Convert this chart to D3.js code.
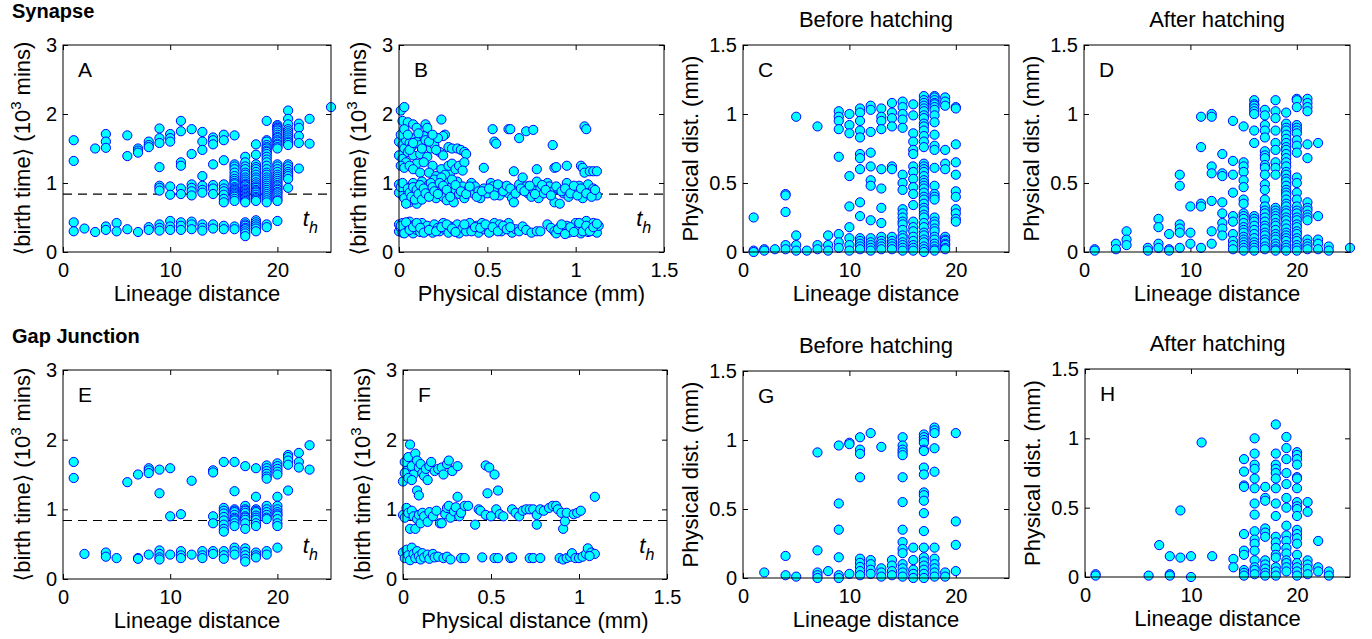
<!DOCTYPE html>
<html>
<head>
<meta charset="utf-8">
<script src="https://cdn.jsdelivr.net/npm/d3@7"></script>
<style>
html,body{margin:0;padding:0;background:#fff;}
svg{display:block;font-family:"Liberation Sans",Arial,"DejaVu Sans",sans-serif;}
</style>
</head>
<body>
<svg id="chart" width="1372" height="639"></svg>
<script>
// ---------------- DATA ----------------
const rowTitles = ["Synapse", "Gap Junction"];
const panelLetters = ["A","B","C","D","E","F","G","H"];
const panelTitles = ["", "", "Before hatching", "After hatching", "", "", "Before hatching", "After hatching"];
const lineageTicks = [0, 10, 20];
const physTicks = [0, 0.5, 1, 1.5];
const birthTicks = [0, 1, 2, 3];
const physDistTicks = [0, 0.5, 1, 1.5];
const hatchThreshold = 0.84; // t_h, 10^3 mins

// A: Synapse, lineage distance vs <birth time>  [lineage, [birth times]]
const synLineageBirth = [
  [1,[1.62,1.32,0.43,0.30]],[2,[0.34]],[3,[1.50,0.29]],[4,[1.71,1.60,1.51,0.37,0.32]],
  [5,[0.42,0.30]],[6,[1.69,1.39,0.33]],[7,[1.50,1.47,1.44,0.29]],[8,[1.60,1.55,1.52,0.36,0.32]],
  [9,[1.79,1.65,1.58,1.23,0.96,0.93,0.89,0.40,0.35,0.31]],
  [10,[1.71,1.65,1.60,0.95,0.83,0.45,0.37,0.32]],
  [11,[1.90,1.75,1.30,1.25,0.92,0.84,0.43,0.38,0.32]],
  [12,[1.78,1.42,0.98,0.93,0.88,0.82,0.44,0.40,0.33]],
  [13,[1.74,1.60,1.48,1.10,0.96,0.90,0.86,0.40,0.35,0.31]],
  [14,[1.66,1.62,1.56,1.27,0.97,0.92,0.84,0.40,0.34]],
  [15,[1.70,1.62,1.33,0.98,0.92,0.88,0.83,0.77,0.72,0.38,0.33]],
  [16,[1.69,1.27,1.24,1.20,1.15,1.10,1.06,1.03,1.00,0.98,0.94,0.92,0.90,0.88,0.86,0.84,0.82,0.80,0.77,0.74,0.37,0.33]],
  [17,[1.38,1.30,1.24,1.20,1.15,1.12,1.08,1.05,1.02,0.99,0.97,0.95,0.92,0.90,0.88,0.86,0.84,0.82,0.80,0.78,0.76,0.74,0.72,0.43,0.40,0.38,0.35,0.33,0.30,0.27,0.23]],
  [18,[1.56,1.41,1.27,1.23,1.20,1.16,1.12,1.08,1.05,1.01,0.98,0.95,0.93,0.90,0.88,0.86,0.83,0.80,0.78,0.76,0.74,0.46,0.43,0.40,0.37,0.34,0.30]],
  [19,[1.90,1.62,1.60,1.55,1.52,1.50,1.47,1.45,1.42,1.38,1.34,1.30,1.25,1.20,1.15,1.12,1.08,1.05,1.02,0.99,0.96,0.93,0.90,0.87,0.84,0.81,0.78,0.75,0.72,0.40,0.36]],
  [20,[1.84,1.82,1.80,1.78,1.76,1.73,1.70,1.67,1.65,1.62,1.60,1.57,1.55,1.52,1.50,1.27,1.24,1.20,1.16,1.12,1.09,1.06,1.03,1.00,0.97,0.95,0.92,0.90,0.87,0.85,0.82,0.79,0.76,0.74,0.45]],
  [21,[2.05,1.93,1.85,1.78,1.75,1.72,1.69,1.66,1.63,1.60,1.58,1.55,1.27,1.24,1.20,1.16,1.13,1.10,1.06,0.93]],
  [22,[1.86,1.80,1.68,1.58,1.21]],[23,[1.93,1.57]],[25,[2.10]]
];

// B: Synapse, physical distance (mm) vs <birth time>  [x, y]
const synPhysBirth = [
  [0.01,2.05],[0.03,2.10],[0.02,1.90],[0.05,1.88],[0.08,1.85],[0.10,1.80],[0.15,1.85],[0.16,1.80],[0.24,1.92],[0.26,1.70],[0.25,1.68],
  [0.00,1.60],[0.02,1.55],[0.03,1.50],[0.04,1.62],[0.06,1.58],[0.07,1.52],[0.09,1.65],[0.10,1.60],[0.12,1.55],[0.14,1.68],[0.15,1.62],
  [0.18,1.50],[0.20,1.55],[0.22,1.65],[0.23,1.45],[0.25,1.40],[0.28,1.52],[0.30,1.50],[0.33,1.50],[0.35,1.48],[0.37,1.45],[0.38,1.42],
  [0.00,1.40],[0.02,1.35],[0.05,1.45],[0.08,1.40],[0.12,1.42],[0.16,1.38],
  [0.01,1.70],[0.03,1.78],[0.05,1.70],[0.06,1.48],[0.08,1.58],[0.11,1.72],[0.13,1.50],[0.17,1.60],[0.19,1.70],[0.21,1.48],
  [0.04,1.30],[0.10,1.28],[0.14,1.30],[0.19,1.25],[0.24,1.20],[0.29,1.15],
  [0.01,1.25],[0.03,1.22],[0.06,1.25],[0.08,1.20],[0.12,1.15],[0.17,1.15],[0.21,1.10],[0.26,1.12],[0.28,1.25],[0.30,1.28],[0.32,1.20],
  [0.34,1.25],[0.37,1.30],[0.36,1.18],[0.48,1.22],[0.65,1.17],[0.78,1.20],[0.88,1.22],[0.89,1.23],[0.95,1.25],[1.03,1.25],[1.04,1.22],
  [1.05,1.15],[1.08,1.17],[1.10,1.17],[1.12,1.17],
  [0.53,1.78],[0.54,1.60],[0.55,1.57],[0.62,1.78],[0.63,1.78],[0.68,1.65],[0.72,1.75],[0.76,1.77],[0.87,1.55],[1.05,1.82],[1.06,1.78],
  [0.00,0.98],[0.01,0.90],[0.02,0.82],[0.03,0.95],[0.04,0.88],[0.05,0.78],[0.06,0.72],[0.07,0.92],[0.08,1.00],[0.09,0.85],[0.10,0.70],
  [0.11,0.95],[0.12,0.88],[0.13,1.02],[0.14,0.80],[0.15,0.92],[0.16,0.86],[0.17,0.98],[0.18,0.90],[0.19,0.82],[0.20,1.05],[0.21,0.78],
  [0.22,0.95],[0.23,0.88],[0.24,1.08],[0.25,0.80],[0.26,0.92],[0.27,0.75],[0.28,1.00],[0.29,0.86],[0.30,0.95],[0.31,0.72],[0.32,0.90],
  [0.33,1.02],[0.34,0.84],[0.36,0.95],[0.37,0.78],[0.39,0.90],[0.41,1.00],[0.42,0.85],[0.43,0.95],[0.45,0.88],[0.46,0.78],[0.48,0.92],
  [0.50,0.85],[0.52,1.00],[0.53,0.95],[0.55,0.88],[0.57,0.82],[0.58,0.95],[0.60,0.90],[0.62,0.85],[0.64,0.78],[0.65,0.72],[0.67,0.90],
  [0.68,0.98],[0.70,1.08],[0.72,0.95],[0.73,0.85],[0.75,0.80],[0.76,0.90],[0.78,1.02],[0.79,0.78],[0.80,0.92],[0.82,0.85],[0.84,1.00],
  [0.85,0.95],[0.87,0.88],[0.88,0.72],[0.90,0.92],[0.91,0.70],[0.93,0.85],[0.95,1.00],[0.96,0.80],[0.98,0.92],[1.00,0.88],[1.02,0.96],
  [1.04,0.78],[1.05,0.90],[1.07,0.98],[1.08,0.85],[1.10,0.92],[1.12,0.82],
  [0.00,0.86],[0.01,0.94],[0.02,1.00],[0.03,0.78],[0.04,0.70],[0.05,0.92],[0.06,0.86],[0.07,0.80],[0.08,0.94],[0.09,0.76],[0.10,0.90],
  [0.11,0.84],[0.12,0.97],[0.13,0.76],[0.14,0.92],[0.15,0.85],[0.17,0.80],[0.18,1.00],[0.19,0.94],[0.20,0.88],[0.22,0.84],[0.23,1.00],
  [0.25,0.96],[0.27,0.90],[0.29,0.80],[0.30,1.05],[0.32,0.97],[0.35,0.88],[0.38,0.84],[0.40,0.95],[0.44,0.80],[0.47,0.88],[0.51,0.92],
  [0.54,0.82],[0.56,0.98],[0.59,0.88],[0.61,0.96],[0.63,0.92],[0.66,0.85],[0.69,0.92],[0.71,0.88],[0.74,0.96],[0.77,0.84],[0.81,0.97],
  [0.83,0.90],[0.86,0.82],[0.89,0.95],[0.92,0.88],[0.94,0.92],[0.97,0.85],[0.99,0.96],[1.01,0.82],[1.03,0.92],[1.06,0.85],[1.09,0.80],[1.11,0.90],
  [0.00,0.40],[0.00,0.30],[0.01,0.35],[0.02,0.42],[0.02,0.28],[0.03,0.33],[0.04,0.38],[0.05,0.30],[0.06,0.44],[0.07,0.35],[0.08,0.27],
  [0.09,0.40],[0.10,0.32],[0.11,0.37],[0.12,0.29],[0.13,0.42],[0.14,0.34],[0.15,0.30],[0.16,0.38],[0.18,0.33],[0.19,0.28],[0.20,0.40],
  [0.22,0.35],[0.23,0.30],[0.25,0.42],[0.26,0.33],[0.28,0.28],[0.29,0.37],[0.31,0.31],[0.33,0.40],[0.34,0.27],[0.36,0.35],[0.38,0.30],
  [0.40,0.42],[0.42,0.33],[0.44,0.38],[0.45,0.28],[0.47,0.42],[0.48,0.33],[0.50,0.37],[0.52,0.30],[0.54,0.42],[0.55,0.35],[0.57,0.40],
  [0.58,0.30],[0.60,0.36],[0.62,0.42],[0.64,0.28],[0.66,0.33],[0.68,0.30],[0.70,0.37],[0.72,0.32],[0.75,0.28],[0.78,0.30],[0.80,0.30],
  [0.84,0.40],[0.86,0.35],[0.88,0.30],[0.89,0.27],[0.91,0.36],[0.93,0.30],[0.95,0.38],[0.96,0.28],[0.98,0.33],[1.00,0.42],[1.01,0.30],
  [1.02,0.36],[1.03,0.27],[1.04,0.40],[1.05,0.33],[1.06,0.45],[1.07,0.29],[1.08,0.37],[1.09,0.31],[1.10,0.42],[1.11,0.35],[1.12,0.28],[1.13,0.38],
  [0.01,0.38],[0.03,0.27],[0.04,0.43],[0.06,0.32],[0.08,0.36],[0.10,0.42],[0.12,0.35],[0.14,0.28],[0.17,0.32],[0.21,0.30],[0.24,0.36],
  [0.27,0.40],[0.30,0.34],[0.32,0.29],[0.37,0.40],[0.41,0.30],[0.43,0.36],[0.46,0.35],[0.49,0.40],[0.51,0.28],[0.53,0.36],[0.56,0.30],
  [0.59,0.38],[0.61,0.33],[0.63,0.36],[0.90,0.33],[0.92,0.40],[0.94,0.26],[0.97,0.36],[0.99,0.29],[1.02,0.42],[1.04,0.30],[1.06,0.38],
  [1.08,0.30],[1.10,0.36],[1.12,0.41]
];

// C: Synapse before hatching, lineage distance vs physical distance
const synBeforeLineagePhys = [
  [1,[0.25,0.01,0.00]],[2,[0.02,0.01]],[3,[0.02]],[4,[0.42,0.41,0.29,0.05,0.02]],[5,[0.98,0.12,0.05,0.01]],
  [6,[0.01]],[7,[0.91,0.05,0.02]],[8,[0.12,0.05,0.01]],
  [9,[1.02,0.98,0.95,0.89,0.69,0.13,0.07,0.03]],
  [10,[1.00,0.92,0.86,0.55,0.33,0.18,0.10,0.05,0.01]],
  [11,[1.04,1.01,0.95,0.88,0.83,0.71,0.68,0.60,0.36,0.26,0.10,0.08,0.06,0.04,0.02]],
  [12,[1.06,1.03,0.87,0.72,0.62,0.52,0.48,0.23,0.10,0.07,0.05,0.03,0.01]],
  [13,[1.04,0.98,0.95,0.89,0.60,0.46,0.32,0.21,0.11,0.08,0.06,0.04,0.02]],
  [14,[1.08,1.01,0.97,0.91,0.62,0.60,0.11,0.08,0.06,0.04,0.02]],
  [15,[1.09,1.05,1.00,0.96,0.90,0.56,0.50,0.45,0.31,0.28,0.25,0.22,0.20,0.16,0.12,0.10,0.07,0.05,0.03,0.01]],
  [16,[1.07,0.99,0.86,0.80,0.74,0.71,0.62,0.58,0.53,0.47,0.42,0.34,0.22,0.18,0.15,0.11,0.08,0.05,0.03,0.01]],
  [17,[1.13,1.10,1.08,1.06,1.04,1.02,0.99,0.97,0.93,0.91,0.88,0.84,0.80,0.76,0.64,0.62,0.60,0.58,0.55,0.52,0.50,0.48,0.46,0.43,0.40,0.38,0.35,0.32,0.30,0.27,0.25,0.21,0.18,0.14,0.12,0.09,0.07,0.04,0.02,0.00]],
  [18,[1.13,1.12,1.10,1.08,1.07,1.05,1.03,0.99,0.94,0.85,0.77,0.74,0.61,0.48,0.42,0.40,0.38,0.25,0.22,0.20,0.17,0.15,0.11,0.09,0.06,0.04,0.02,0.01]],
  [19,[1.12,1.09,1.06,0.74,0.64,0.60,0.11,0.09,0.08,0.06,0.05,0.03,0.02]],
  [20,[1.05,1.04,0.78,0.65,0.56,0.44,0.40,0.31,0.28,0.24,0.22]]
];

// D: Synapse after hatching
const synAfterLineagePhys = [
  [1,[0.02,0.01]],[3,[0.06,0.02]],[4,[0.15,0.09,0.05]],[6,[0.03,0.01]],[7,[0.24,0.18,0.06,0.03]],
  [8,[0.13,0.02,0.01]],[9,[0.56,0.48,0.20,0.17,0.14,0.03]],[10,[0.33,0.14,0.06]],
  [11,[0.98,0.76,0.35,0.33,0.03]],[12,[1.00,0.98,0.62,0.57,0.37,0.15,0.06]],
  [13,[0.71,0.57,0.55,0.36,0.28,0.21,0.17,0.12]],
  [14,[0.95,0.66,0.56,0.43,0.26,0.22,0.13,0.08,0.05,0.02]],
  [15,[0.91,0.65,0.62,0.58,0.52,0.47,0.38,0.35,0.28,0.26,0.24,0.21,0.18,0.16,0.14,0.11,0.09,0.07,0.05,0.03,0.01]],
  [16,[1.10,1.07,1.06,1.04,1.02,1.00,0.88,0.79,0.26,0.24,0.22,0.19,0.16,0.13,0.10,0.07,0.05,0.03,0.01]],
  [17,[1.03,0.99,0.92,0.88,0.83,0.73,0.70,0.68,0.63,0.61,0.56,0.49,0.45,0.38,0.33,0.30,0.28,0.25,0.22,0.19,0.17,0.14,0.12,0.09,0.07,0.04,0.02]],
  [18,[1.10,1.02,0.97,0.88,0.79,0.74,0.65,0.61,0.56,0.32,0.30,0.28,0.26,0.24,0.21,0.19,0.16,0.13,0.11,0.09,0.06,0.04,0.02,0.01]],
  [19,[1.01,0.93,0.90,0.88,0.85,0.82,0.79,0.76,0.74,0.71,0.68,0.65,0.62,0.58,0.56,0.53,0.51,0.48,0.45,0.43,0.41,0.38,0.35,0.33,0.30,0.28,0.25,0.23,0.20,0.17,0.14,0.12,0.10,0.08,0.05,0.03,0.01]],
  [20,[1.11,1.10,1.05,0.92,0.90,0.88,0.86,0.81,0.77,0.72,0.54,0.50,0.43,0.38,0.33,0.30,0.28,0.25,0.23,0.20,0.18,0.15,0.13,0.10,0.08,0.05,0.03,0.01]],
  [21,[1.11,1.08,1.05,1.02,0.78,0.68,0.36,0.32,0.30,0.27,0.25,0.23,0.09,0.06,0.04,0.02]],
  [22,[0.79,0.26,0.09,0.06,0.02]],[23,[0.04,0.01]],[25,[0.03]]
];

// E: Gap junction, lineage distance vs <birth time>
const gapLineageBirth = [
  [1,[1.68,1.45]],[2,[0.36]],[4,[0.38,0.32]],[5,[0.30]],[6,[1.39]],[7,[1.50,0.30,0.29]],
  [8,[1.59,1.56,1.52,0.35]],[9,[1.57,1.23,0.41,0.36,0.31,0.28]],[10,[1.59,0.90,0.35]],
  [11,[0.93,0.40,0.34,0.30]],[12,[1.41,0.35]],[13,[0.40,0.34,0.30]],
  [14,[1.56,1.53,0.90,0.80,0.40,0.36]],
  [15,[1.68,1.02,0.98,0.94,0.89,0.84,0.78,0.72,0.68,0.40,0.34,0.29]],
  [16,[1.68,1.26,1.00,0.98,0.96,0.92,0.88,0.86,0.84,0.80,0.76,0.45,0.40,0.35]],
  [17,[1.62,1.05,1.00,0.98,0.95,0.90,0.88,0.85,0.80,0.72,0.44,0.39,0.34,0.29,0.25]],
  [18,[1.59,1.18,1.00,0.98,0.96,0.91,0.88,0.85,0.80,0.76,0.38,0.34,0.31]],
  [19,[1.63,1.59,1.55,1.51,1.47,1.44,1.05,1.00,0.96,0.92,0.88,0.86,0.40,0.35]],
  [20,[1.66,1.62,1.58,1.54,1.50,1.18,1.05,1.00,0.96,0.93,0.91,0.86,0.80,0.76,0.45]],
  [21,[1.78,1.75,1.70,1.64,1.27]],[22,[1.81,1.68,1.60]],[23,[1.92,1.57]]
];

// F: Gap junction, physical distance vs <birth time>
const gapPhysBirth = [
  [0.04,1.93],[0.01,1.68],[0.02,1.55],[0.03,1.75],[0.05,1.62],[0.06,1.50],[0.07,1.80],[0.08,1.70],[0.09,1.60],[0.10,1.65],[0.11,1.52],
  [0.12,1.48],[0.13,1.58],[0.14,1.42],[0.15,1.62],[0.16,1.68],[0.18,1.55],[0.20,1.58],[0.22,1.60],[0.23,1.50],[0.25,1.65],[0.26,1.70],
  [0.28,1.55],[0.31,1.62],[0.00,1.40],[0.01,1.52],[0.03,1.45],[0.05,1.42],[0.08,1.27],[0.09,1.20],[0.47,1.63],[0.49,1.60],[0.52,1.50],
  [0.48,1.23],[0.54,1.27],[0.31,1.18],[1.09,1.18],
  [0.00,0.92],[0.01,0.88],[0.02,1.02],[0.03,0.95],[0.04,0.72],[0.05,0.98],[0.06,0.90],[0.07,0.72],[0.08,0.86],[0.09,0.92],[0.10,0.80],
  [0.11,0.95],[0.12,0.90],[0.14,0.82],[0.15,0.96],[0.17,0.90],[0.19,0.98],[0.21,0.80],[0.22,0.80],[0.24,0.93],[0.25,1.02],[0.26,1.05],
  [0.27,0.88],[0.29,0.97],[0.30,1.03],[0.32,0.90],[0.33,0.95],[0.35,1.05],[0.37,1.05],[0.41,0.78],[0.43,1.00],[0.44,0.98],[0.47,0.92],
  [0.50,0.90],[0.53,1.00],[0.55,0.93],[0.57,0.90],[0.62,1.00],[0.64,0.95],[0.66,0.90],[0.68,0.98],[0.70,1.00],[0.72,1.00],[0.74,1.00],
  [0.76,0.78],[0.76,0.92],[0.78,1.00],[0.80,0.98],[0.83,1.02],[0.85,1.05],[0.87,1.05],[0.88,1.00],[0.90,0.95],[0.91,0.72],[0.92,0.83],
  [0.93,0.95],[0.97,0.93],[0.99,0.95],[1.01,0.98],
  [0.00,0.38],[0.01,0.30],[0.02,0.42],[0.03,0.34],[0.04,0.27],[0.05,0.45],[0.06,0.36],[0.07,0.30],[0.08,0.40],[0.09,0.33],[0.10,0.28],
  [0.11,0.37],[0.12,0.31],[0.14,0.35],[0.15,0.29],[0.17,0.36],[0.18,0.31],[0.20,0.32],[0.23,0.30],[0.25,0.32],[0.27,0.28],[0.33,0.30],
  [0.35,0.30],[0.45,0.31],[0.52,0.30],[0.54,0.30],[0.61,0.30],[0.62,0.31],[0.72,0.30],[0.74,0.30],[0.78,0.30],[0.89,0.30],[0.91,0.28],
  [0.93,0.30],[0.95,0.32],[0.96,0.37],[0.98,0.30],[1.00,0.30],[1.02,0.32],[1.04,0.36],[1.05,0.44],[1.07,0.38],[1.09,0.36],[1.06,0.33]
];

// G: Gap junction before hatching
const gapBeforeLineagePhys = [
  [2,[0.04]],[4,[0.16,0.02]],[5,[0.01]],[7,[0.91,0.20,0.04,0.02,0.00]],[8,[0.05]],
  [9,[0.96,0.54,0.35,0.15,0.02,0.00]],[10,[0.98,0.97,0.03]],
  [11,[1.02,0.93,0.90,0.73,0.14,0.11,0.08,0.05,0.02]],[12,[1.05,0.13,0.10,0.06,0.03]],
  [13,[0.95,0.07,0.04,0.01]],[14,[0.13,0.09,0.05,0.02]],
  [15,[1.02,0.96,0.93,0.91,0.89,0.73,0.55,0.35,0.26,0.21,0.18,0.10,0.07,0.04,0.01]],
  [16,[0.22,0.13,0.06,0.03,0.00]],
  [17,[1.04,1.02,1.00,0.98,0.93,0.92,0.80,0.75,0.62,0.60,0.56,0.47,0.34,0.22,0.15,0.12,0.09,0.06,0.03,0.00]],
  [18,[1.09,1.07,1.05,0.94,0.77,0.22,0.14,0.10,0.07,0.04,0.01]],
  [19,[0.04,0.01]],[20,[1.05,0.41,0.24,0.05]]
];

// H: Gap junction after hatching
const gapAfterLineagePhys = [
  [1,[0.02,0.01]],[6,[0.01]],[7,[0.23]],[8,[0.15,0.02,0.01]],[9,[0.48,0.14]],[10,[0.15,0.00]],
  [11,[0.97]],[12,[0.15]],[14,[0.13,0.07]],
  [15,[0.85,0.76,0.66,0.65,0.31,0.19,0.16,0.05,0.03,0.01]],
  [16,[1.00,0.89,0.81,0.78,0.71,0.64,0.53,0.45,0.33,0.27,0.24,0.19,0.12,0.07,0.05,0.02]],
  [17,[0.65,0.57,0.55,0.35,0.32,0.29,0.12,0.09,0.06,0.03,0.01]],
  [18,[1.10,0.89,0.81,0.78,0.75,0.71,0.64,0.53,0.44,0.29,0.25,0.21,0.16,0.14,0.07,0.04,0.01]],
  [19,[1.01,0.93,0.85,0.75,0.67,0.57,0.50,0.37,0.30,0.26,0.21,0.17,0.12,0.10,0.07,0.04]],
  [20,[0.90,0.88,0.85,0.81,0.72,0.71,0.64,0.54,0.51,0.49,0.44,0.34,0.31,0.28,0.24,0.16,0.10,0.07,0.04,0.01]],
  [21,[0.54,0.47,0.12,0.09,0.06,0.02]],[22,[0.26,0.07,0.04]],[23,[0.04,0.01]]
];

// ---------------- DRAWING ----------------
const svg = d3.select("#chart");
const flatGroups = g => g.flatMap(([x, ys]) => ys.map(y => [x, y]));

const FILL = "#00ffff", EDGE = "#0000ff";
const tickFont = 20, labelFont = 22;

const panels = [
  {L:63,  R:331,  T:45,  B:252, pts:flatGroups(synLineageBirth), xd:[0,25], yd:[0,3], xt:lineageTicks, yt:birthTicks, xl:"Lineage distance", yl:"birth", th:true},
  {L:399, R:664,  T:45,  B:252, pts:synPhysBirth, xd:[0,1.5], yd:[0,3], xt:physTicks, yt:birthTicks, xl:"Physical distance (mm)", yl:"birth", th:true},
  {L:743, R:1009, T:45,  B:252, pts:flatGroups(synBeforeLineagePhys), xd:[0,25], yd:[0,1.5], xt:lineageTicks, yt:physDistTicks, xl:"Lineage distance", yl:"phys"},
  {L:1084,R:1350, T:45,  B:252, pts:flatGroups(synAfterLineagePhys), xd:[0,25], yd:[0,1.5], xt:lineageTicks, yt:physDistTicks, xl:"Lineage distance", yl:"phys"},
  {L:63,  R:331,  T:370, B:579, pts:flatGroups(gapLineageBirth), xd:[0,25], yd:[0,3], xt:lineageTicks, yt:birthTicks, xl:"Lineage distance", yl:"birth", th:true},
  {L:403, R:667,  T:370, B:579, pts:gapPhysBirth, xd:[0,1.5], yd:[0,3], xt:physTicks, yt:birthTicks, xl:"Physical distance (mm)", yl:"birth", th:true},
  {L:743, R:1009, T:371, B:578, pts:flatGroups(gapBeforeLineagePhys), xd:[0,25], yd:[0,1.5], xt:lineageTicks, yt:physDistTicks, xl:"Lineage distance", yl:"phys"},
  {L:1085,R:1350, T:369, B:577, pts:flatGroups(gapAfterLineagePhys), xd:[0,25], yd:[0,1.5], xt:lineageTicks, yt:physDistTicks, xl:"Lineage distance", yl:"phys"}
];

const fmt = v => d3.format("~g")(v);

panels.forEach((p, i) => {
  const x = d3.scaleLinear().domain(p.xd).range([p.L, p.R]);
  const y = d3.scaleLinear().domain(p.yd).range([p.B, p.T]);
  const g = svg.append("g");

  const styleAxis = sel => {
    sel.select(".domain").remove();
    sel.selectAll(".tick line").attr("stroke", "#000");
    sel.selectAll("text").attr("font-size", tickFont).attr("fill", "#000")
      .attr("font-family", "Liberation Sans, Arial, sans-serif");
  };
  g.append("g").attr("transform", `translate(0,${p.B})`)
    .call(d3.axisBottom(x).tickValues(p.xt).tickFormat(fmt).tickSizeInner(-5).tickSizeOuter(0).tickPadding(11))
    .call(styleAxis);
  g.append("g").attr("transform", `translate(0,${p.T})`)
    .call(d3.axisTop(x).tickValues(p.xt).tickFormat("").tickSizeInner(-5).tickSizeOuter(0))
    .call(styleAxis);
  g.append("g").attr("transform", `translate(${p.L},0)`)
    .call(d3.axisLeft(y).tickValues(p.yt).tickFormat(fmt).tickSizeInner(-5).tickSizeOuter(0).tickPadding(6))
    .call(styleAxis);
  g.append("g").attr("transform", `translate(${p.R},0)`)
    .call(d3.axisRight(y).tickValues(p.yt).tickFormat("").tickSizeInner(-5).tickSizeOuter(0))
    .call(styleAxis);

  if (p.th) {
    g.append("line")
      .attr("x1", x(p.xd[0])).attr("x2", x(p.xd[1]))
      .attr("y1", y(hatchThreshold)).attr("y2", y(hatchThreshold))
      .attr("stroke", "#000").attr("stroke-width", 1.2).attr("stroke-dasharray", "9,6");
  }

  g.append("g").selectAll("circle").data(p.pts).join("circle")
    .attr("cx", d => x(d[0])).attr("cy", d => y(d[1])).attr("r", 4.6)
    .attr("fill", FILL).attr("stroke", EDGE).attr("stroke-width", 1);

  g.append("rect").attr("x", p.L).attr("y", p.T)
    .attr("width", p.R - p.L).attr("height", p.B - p.T)
    .attr("fill", "none").attr("stroke", "#000").attr("stroke-width", 1);

  if (p.th) {
    const t = g.append("text")
      .attr("x", p.L + (p.R - p.L) * 0.895)
      .attr("y", y(0.38))
      .attr("font-size", labelFont).attr("font-style", "italic");
    t.append("tspan").text("t");
    t.append("tspan").attr("font-size", 16).attr("dy", 7).text("h");
  }

  g.append("text").attr("x", p.L + 15).attr("y", p.T + 32)
    .attr("font-size", 21).text(panelLetters[i]);

  if (panelTitles[i]) {
    g.append("text").attr("x", (p.L + p.R) / 2).attr("y", p.T - 18)
      .attr("text-anchor", "middle").attr("font-size", labelFont).text(panelTitles[i]);
  }

  g.append("text").attr("x", (p.L + p.R) / 2).attr("y", p.B + 49)
    .attr("text-anchor", "middle").attr("font-size", labelFont).text(p.xl);

  const cy = (p.T + p.B) / 2;
  if (p.yl === "birth") {
    const yl = g.append("text")
      .attr("transform", `translate(${p.L - 33},${cy}) rotate(-90)`)
      .attr("text-anchor", "middle").attr("font-size", labelFont);
    yl.append("tspan").text("\u27E8birth time\u27E9 (10");
    yl.append("tspan").attr("font-size", 15).attr("dy", -9).text("3");
    yl.append("tspan").attr("dy", 9).text(" mins)");
  } else {
    g.append("text")
      .attr("transform", `translate(${p.L - 45},${cy}) rotate(-90)`)
      .attr("text-anchor", "middle").attr("font-size", labelFont).text("Physical dist. (mm)");
  }
});

svg.append("text").attr("x", 12).attr("y", 18).attr("font-size", 20).attr("font-weight", "bold").text(rowTitles[0]);
svg.append("text").attr("x", 12).attr("y", 343).attr("font-size", 20).attr("font-weight", "bold").text(rowTitles[1]);
</script>
</body>
</html>
